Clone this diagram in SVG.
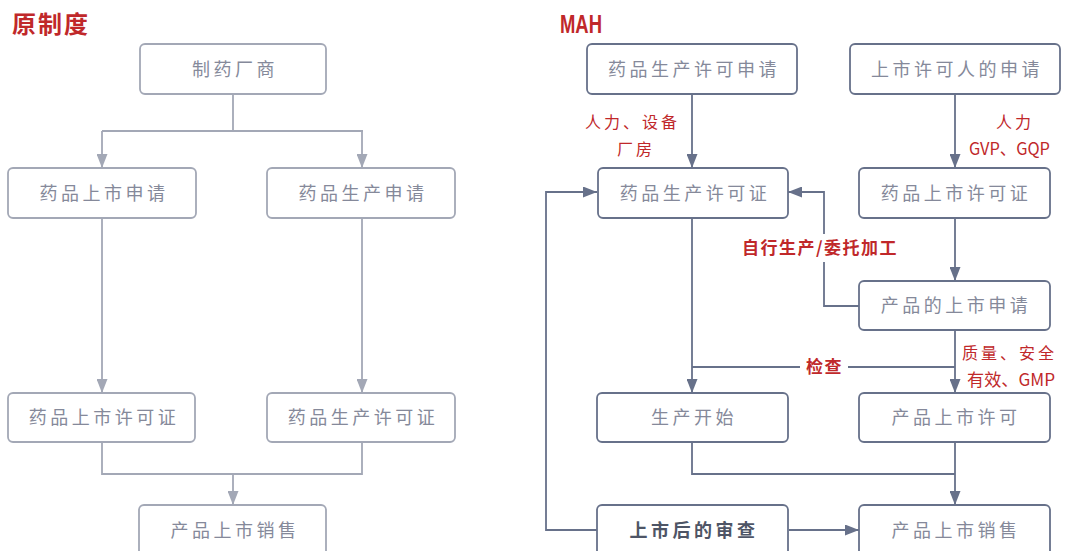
<svg xmlns="http://www.w3.org/2000/svg" width="1073" height="551" viewBox="0 0 1073 551">
<defs>
<style>
.bl{fill:#fff;stroke:#a3a8b6;stroke-width:1.8}
.br{fill:#fff;stroke:#67718a;stroke-width:1.8}
.t{font-family:"Noto Sans CJK SC","Noto Sans",sans-serif;font-size:18px;fill:#85899a;text-anchor:middle;letter-spacing:3.5px}
.tb{font-family:"Noto Sans CJK SC","Noto Sans",sans-serif;font-size:18px;fill:#4e5566;text-anchor:middle;letter-spacing:3.5px;font-weight:bold}
.cl{fill:none;stroke:#a3a8b6;stroke-width:1.8}
.cr{fill:none;stroke:#67718a;stroke-width:1.8}
.red{font-family:"Noto Sans CJK SC","Noto Sans",sans-serif;font-size:16px;fill:#c0282a;letter-spacing:3px}
.redb{font-family:"Noto Sans CJK SC","Noto Sans",sans-serif;font-size:17px;fill:#c0282a;font-weight:bold;letter-spacing:1.5px}
.title{font-family:"Noto Sans CJK SC","Noto Sans",sans-serif;font-size:24px;fill:#c0282a;font-weight:bold}
</style>
<marker id="al" markerWidth="14" markerHeight="11" refX="14" refY="5.5" orient="auto" markerUnits="userSpaceOnUse" viewBox="0 0 14 11"><path d="M0,0 L14,5.5 L0,11 Z" fill="#a3a8b6"/></marker>
<marker id="ar" markerWidth="14" markerHeight="11" refX="14" refY="5.5" orient="auto" markerUnits="userSpaceOnUse" viewBox="0 0 14 11"><path d="M0,0 L14,5.5 L0,11 Z" fill="#67718a"/></marker>
</defs>
<rect width="1073" height="551" fill="#fff"/>
<text class="title" x="12" y="33" style="letter-spacing:2px">原制度</text>
<text class="title" x="560" y="33" style="font-family:'Liberation Sans',sans-serif;font-size:26px" textLength="42" lengthAdjust="spacingAndGlyphs">MAH</text>

<g id="connectors">
<path class="cl" d="M233,94 V131 M102,131 H363"/>
<path class="cl" d="M102,131 V168" marker-end="url(#al)"/>
<path class="cl" d="M362,131 V168" marker-end="url(#al)"/>
<path class="cl" d="M102,218 V393" marker-end="url(#al)"/>
<path class="cl" d="M362,218 V393" marker-end="url(#al)"/>
<path class="cl" d="M102,442 V474 H362 V442"/>
<path class="cl" d="M233,474 V505" marker-end="url(#al)"/>

<path class="cr" d="M692,94 V168" marker-end="url(#ar)"/>
<path class="cr" d="M955,94 V168" marker-end="url(#ar)"/>
<path class="cr" d="M955,218 V281" marker-end="url(#ar)"/>
<path class="cr" d="M859,306 H824 V192 H788" marker-end="url(#ar)"/>
<path class="cr" d="M955,330 V393" marker-end="url(#ar)"/>
<path class="cr" d="M955,367 H692"/>
<path class="cr" d="M692,218 V393" marker-end="url(#ar)"/>
<path class="cr" d="M692,442 V474 H955"/>
<path class="cr" d="M955,442 V505" marker-end="url(#ar)"/>
<path class="cr" d="M789,530 H859" marker-end="url(#ar)"/>
<path class="cr" d="M597,530 H546 V192 H597" marker-end="url(#ar)"/>

<rect x="738" y="234" width="180" height="28" fill="#fff"/>
<text class="redb" x="742" y="254">自行生产/委托加工</text>
<rect x="800" y="355" width="48" height="24" fill="#fff"/>
<text class="redb" x="806" y="373">检查</text>
<text class="red" x="585" y="128">人力、设备</text>
<text class="red" x="617" y="155">厂房</text>
<text class="red" x="996" y="128">人力</text>
<text class="red" x="969" y="155" style="letter-spacing:0px;font-size:17px" textLength="81" lengthAdjust="spacingAndGlyphs">GVP、GQP</text>
<text class="red" x="962" y="359">质量、安全</text>
<text class="red" x="967" y="386" style="letter-spacing:0px;font-size:17px" textLength="88" lengthAdjust="spacingAndGlyphs">有效、GMP</text>
</g>

<g id="n-maker"><rect class="bl" x="140" y="44" width="186" height="50" rx="5"/><text class="t" x="235" y="76">制药厂商</text></g>
<g id="n-l-apply-market"><rect class="bl" x="8" y="168" width="188" height="50" rx="5"/><text class="t" x="104" y="200">药品上市申请</text></g>
<g id="n-l-apply-prod"><rect class="bl" x="267" y="168" width="188" height="50" rx="5"/><text class="t" x="363" y="200">药品生产申请</text></g>
<g id="n-l-lic-market"><rect class="bl" x="8" y="393" width="187" height="49" rx="5"/><text class="t" x="104" y="424">药品上市许可证</text></g>
<g id="n-l-lic-prod"><rect class="bl" x="267" y="393" width="188" height="49" rx="5"/><text class="t" x="363" y="424">药品生产许可证</text></g>
<g id="n-l-sale"><rect class="bl" x="139" y="505" width="187" height="52" rx="5"/><text class="t" x="235" y="537">产品上市销售</text></g>

<g id="n-r-apply-prod"><rect class="br" x="587" y="44" width="210" height="50" rx="5"/><text class="t" x="694" y="76">药品生产许可申请</text></g>
<g id="n-r-apply-mah"><rect class="br" x="850" y="44" width="210" height="50" rx="5"/><text class="t" x="957" y="76">上市许可人的申请</text></g>
<g id="n-r-lic-prod"><rect class="br" x="598" y="168" width="190" height="50" rx="5"/><text class="t" x="695" y="200">药品生产许可证</text></g>
<g id="n-r-lic-market"><rect class="br" x="859" y="168" width="191" height="50" rx="5"/><text class="t" x="956" y="200">药品上市许可证</text></g>
<g id="n-r-product-apply"><rect class="br" x="859" y="281" width="191" height="49" rx="5"/><text class="t" x="956" y="312">产品的上市申请</text></g>
<g id="n-r-start"><rect class="br" x="597" y="393" width="191" height="49" rx="5"/><text class="t" x="694" y="424">生产开始</text></g>
<g id="n-r-permit"><rect class="br" x="859" y="393" width="191" height="49" rx="5"/><text class="t" x="956" y="424">产品上市许可</text></g>
<g id="n-r-review"><rect class="br" x="597" y="505" width="191" height="52" rx="5"/><text class="tb" x="694" y="537">上市后的审查</text></g>
<g id="n-r-sale"><rect class="br" x="859" y="505" width="191" height="52" rx="5"/><text class="t" x="956" y="537">产品上市销售</text></g>
</svg>
